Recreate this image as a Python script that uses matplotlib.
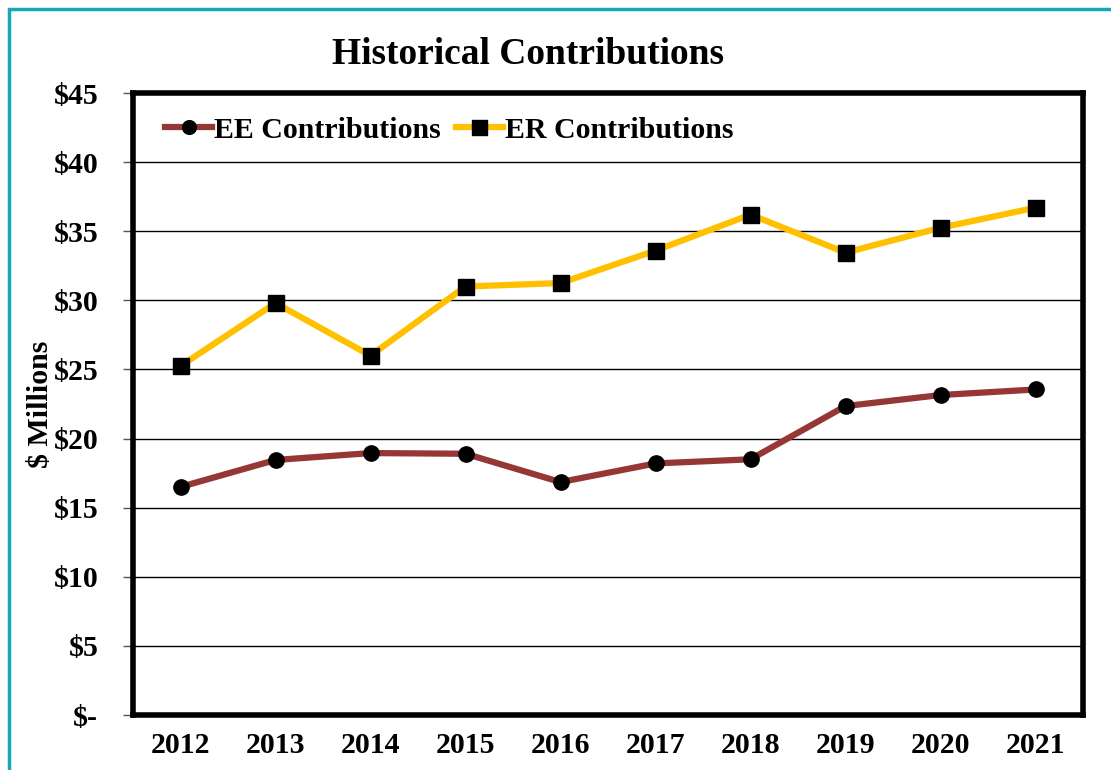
import matplotlib
matplotlib.use("Agg")
import matplotlib.pyplot as plt
from matplotlib.patches import Rectangle

# Chart data ($ millions)
years = ["2012", "2013", "2014", "2015", "2016", "2017", "2018", "2019", "2020", "2021"]
ee_contrib = [16.5, 18.45, 18.95, 18.9, 16.85, 18.2, 18.5, 22.35, 23.15, 23.55]
er_contrib = [25.25, 29.8, 26.0, 31.0, 31.25, 33.6, 36.2, 33.45, 35.25, 36.7]
y_ticks = [0, 5, 10, 15, 20, 25, 30, 35, 40, 45]
y_labels = ["$-", "$5", "$10", "$15", "$20", "$25", "$30", "$35", "$40", "$45"]

plt.rcParams["font.family"] = ["Liberation Serif", "DejaVu Serif"]
plt.rcParams["font.weight"] = "bold"

W, H = 1111, 770
fig = plt.figure(figsize=(W / 100, H / 100), dpi=100)

# teal outer frame (runs off the right and bottom edges)
fig.patches.append(Rectangle((9 / W, -0.05), 1.1, 1 - 9 / H + 0.05, transform=fig.transFigure,
                             fill=False, edgecolor="#17A8B8", linewidth=2.5))

ax = fig.add_axes([133 / W, 1 - 715 / H, 950 / W, 622 / H])
x = list(range(len(years)))

ax.plot(x, ee_contrib, color="#953735", linewidth=4.5, marker="o", markersize=11,
        markerfacecolor="black", markeredgecolor="black", label="EE Contributions", zorder=3)
ax.plot(x, er_contrib, color="#FFC000", linewidth=4.5, marker="s", markersize=12,
        markerfacecolor="black", markeredgecolor="black", label="ER Contributions", zorder=3)

ax.set_xlim(-0.5, len(years) - 0.5)
ax.set_ylim(0, 45)
ax.set_xticks(x)
ax.set_xticklabels(years, fontsize=21.5, fontweight="bold")
ax.set_yticks(y_ticks)
ax.set_yticklabels(y_labels, fontsize=21.5, fontweight="bold")
ax.tick_params(axis="x", length=0, pad=12)
ax.tick_params(axis="y", length=7, width=1, color="#555555", pad=18)
ax.grid(axis="y", color="black", linewidth=1)
ax.set_axisbelow(True)
for s in ax.spines.values():
    s.set_linewidth(4)
    s.set_color("black")

ax.set_ylabel("$ Millions", fontsize=21.5, fontweight="bold", labelpad=0)
fig.text(528 / W, 1 - 55 / H, "Historical Contributions", fontsize=27, fontweight="bold",
         ha="center", va="center")

ax.legend(loc="upper left", bbox_to_anchor=(0.005, 1.005), frameon=False, ncol=2,
          prop={"size": 21.5, "weight": "bold"}, handlelength=1.6, handletextpad=0.05,
          columnspacing=0.5, markerscale=0.9)

fig.savefig("out.png", dpi=100)
